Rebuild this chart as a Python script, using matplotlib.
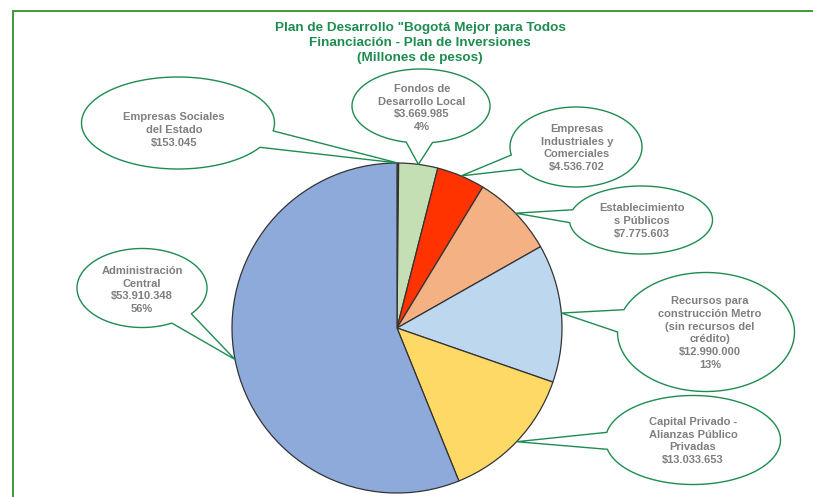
import numpy as np
import matplotlib.pyplot as plt
from matplotlib.patches import Polygon

plt.rcParams['font.family'] = ['Liberation Sans', 'DejaVu Sans']

# datos (millones de pesos)
categorias = ["Empresas Sociales del Estado", "Fondos de Desarrollo Local",
              "Empresas Industriales y Comerciales", "Establecimientos Públicos",
              "Recursos para construcción Metro", "Capital Privado - APP",
              "Administración Central"]
valores = [153045, 3669985, 4536702, 7775603, 12990000, 13033653, 53910348]
colores = ["#595959", "#c4dfb4", "#ff3300", "#f4b183", "#bdd7ee", "#ffd966", "#8eaadb"]
etiquetas = [
    "Empresas Sociales\ndel Estado\n$153.045",
    "Fondos de\nDesarrollo Local\n$3.669.985\n4%",
    "Empresas\nIndustriales y\nComerciales\n$4.536.702",
    "Establecimiento\ns Públicos\n$7.775.603",
    "Recursos para\nconstrucción Metro\n(sin recursos del\ncrédito)\n$12.990.000\n13%",
    "Capital Privado -\nAlianzas Público\nPrivadas\n$13.033.653",
    "Administración\nCentral\n$53.910.348\n56%",
]
titulo = 'Plan de Desarrollo "Bogotá Mejor para Todos\nFinanciación - Plan de Inversiones\n(Millones de pesos)'

# globos: centro elipse, ancho, alto, posicion del texto (pixeles)
globos = [
    (178, 123, 193, 92, 174, 130),
    (421, 106, 138, 74, 422, 108),
    (576, 147, 132, 80, 577, 148),
    (641, 220, 143, 68, 642, 221),
    (706, 332, 177, 119, 710, 333),
    (693, 440, 175, 89, 693, 441),
    (142, 288, 130, 79, 142, 290),
]

verde = "#1e8c50"
gris = "#7f7f7f"


def globo(ax, cx, cy, w, h, punta, gap=11):
    t0 = np.degrees(np.arctan2((punta[1] - cy) / (h / 2), (punta[0] - cx) / (w / 2)))
    ts = np.radians(np.linspace(t0 + gap, t0 + 360 - gap, 240))
    pts = list(zip(cx + w / 2 * np.cos(ts), cy + h / 2 * np.sin(ts))) + [punta]
    ax.add_patch(Polygon(pts, closed=True, fc="white", ec=verde, lw=1.0, zorder=3))


fig = plt.figure(figsize=(8.13, 4.97), dpi=100)
ax = fig.add_axes([0, 0, 1, 1])

centro = (397, 328)
r = 165
wedges, _ = ax.pie(valores, colors=colores, startangle=-90, counterclock=True,
                   center=centro, radius=r,
                   wedgeprops=dict(edgecolor="#333333", linewidth=0.9))

for w_, g, txt in zip(wedges, globos, etiquetas):
    a = np.radians((w_.theta1 + w_.theta2) / 2)
    punta = (centro[0] + r * np.cos(a), centro[1] + r * np.sin(a))
    globo(ax, g[0], g[1], g[2], g[3], punta)
    ax.text(g[4], g[5], txt, ha="center", va="center", color=gris,
            fontsize=8, fontweight="bold", linespacing=1.35, zorder=4)

ax.text(420, 43, titulo, ha="center", va="center", color=verde,
        fontsize=9.7, fontweight="bold", linespacing=1.32)

# marco
ax.plot([13, 13, 813], [497, 10.5, 10.5], color="#3c9a3c", lw=1.4,
        solid_joinstyle="miter", clip_on=False)

ax.set_xlim(0, 813)
ax.set_ylim(497, 0)
ax.set_aspect("equal")
ax.axis("off")

fig.savefig("out.png", dpi=100)
